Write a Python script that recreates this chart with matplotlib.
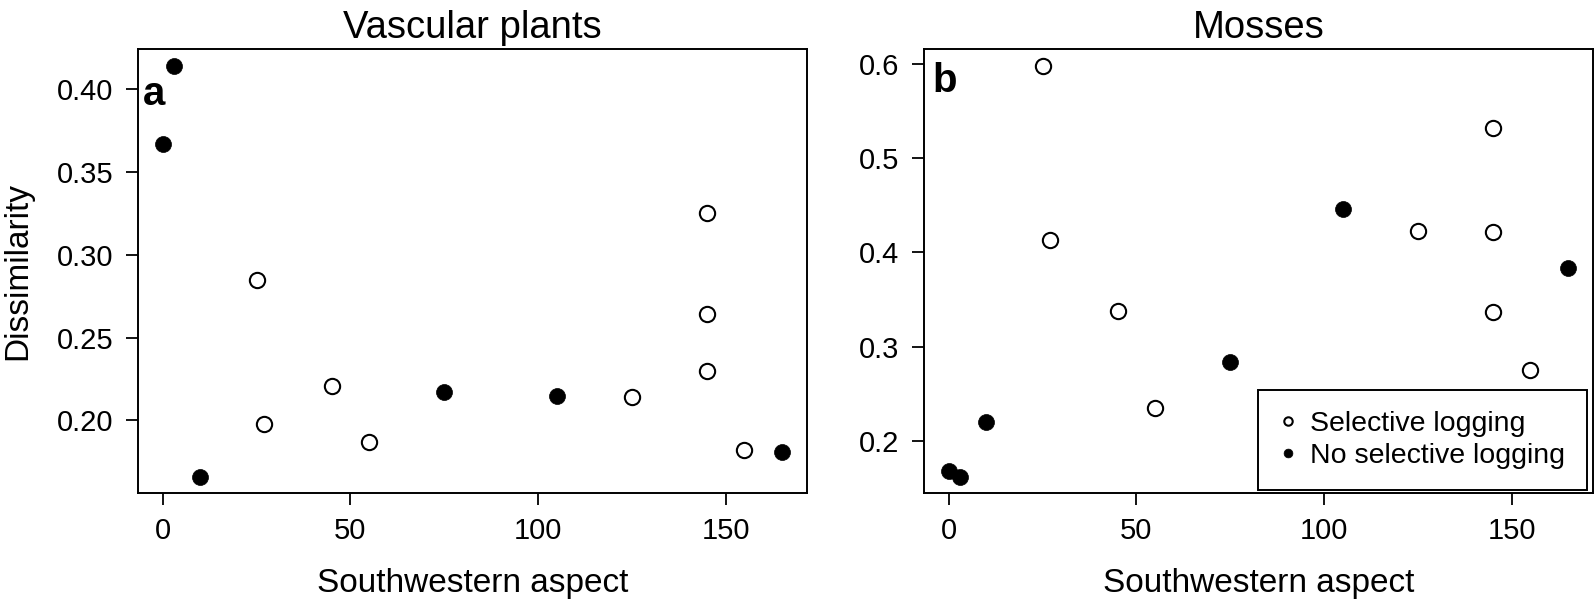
import numpy as np
import matplotlib
matplotlib.use("Agg")
import matplotlib.pyplot as plt
from matplotlib.lines import Line2D

plt.rcParams['font.family'] = ['Liberation Sans', 'DejaVu Sans']

# southwestern aspect of each site, and whether it was selectively logged
aspect = [0, 3, 10, 25, 27, 45, 55, 75, 105, 125, 145, 145, 145, 155, 165]
logged = [0, 0, 0, 1, 1, 1, 1, 0, 0, 1, 1, 1, 1, 1, 0]

# dissimilarity per site
vascular = [0.367, 0.414, 0.166, 0.285, 0.198, 0.221, 0.187, 0.217,
            0.215, 0.214, 0.325, 0.264, 0.230, 0.182, 0.181]
mosses = [0.168, 0.162, 0.220, 0.598, 0.413, 0.338, 0.235, 0.284,
          0.446, 0.423, 0.532, 0.422, 0.337, 0.275, 0.384]

titles = ["Vascular plants", "Mosses"]
letters = ["a", "b"]
xticks = [0, 50, 100, 150]
yticks_a = [0.20, 0.25, 0.30, 0.35, 0.40]
yticks_b = [0.2, 0.3, 0.4, 0.5, 0.6]
legend_labels = ["Selective logging", "No selective logging"]

TS = 21   # tick label size
LS = 24   # axis label size

fig = plt.figure(figsize=(15.95, 6.01), dpi=100)
axes = [fig.add_axes([0.0865, 0.1792, 0.4193, 0.7388]),
        fig.add_axes([0.5793, 0.1792, 0.4193, 0.7388])]


def r_lim(v):
    # R style 4% padding around the data range
    lo, hi = min(v), max(v)
    r = hi - lo
    return lo - 0.04 * r, hi + 0.04 * r


for i, (ax, yv) in enumerate(zip(axes, [vascular, mosses])):
    x = np.array(aspect)
    y = np.array(yv)
    g = np.array(logged) == 1
    ax.plot(x[g], y[g], 'o', ms=11, mfc='white', mec='black', mew=1.5, ls='none')
    ax.plot(x[~g], y[~g], 'o', ms=11.5, mfc='black', mec='black', mew=0.5, ls='none')

    ax.set_xlim(r_lim(aspect))
    ax.set_ylim(r_lim(yv))
    ax.set_xticks(xticks)
    if i == 0:
        ax.set_yticks(yticks_a)
        ax.set_yticklabels(['%.2f' % t for t in yticks_a])
        ax.set_ylabel("Dissimilarity", fontsize=LS, labelpad=17)
    else:
        ax.set_yticks(yticks_b)
        ax.set_yticklabels(['%.1f' % t for t in yticks_b])
    ax.set_xlabel("Southwestern aspect", fontsize=LS, labelpad=17)
    ax.set_title(titles[i], fontsize=27.5, pad=8)

    ax.tick_params(axis='x', labelsize=TS, length=8.8, width=1.3, pad=8)
    ax.tick_params(axis='y', labelsize=TS, length=8.8, width=1.3, pad=9)
    for s in ax.spines.values():
        s.set_linewidth(1.4)

    ax.text([0.0066, 0.012][i], [0.8745, 0.9045][i], letters[i],
            transform=ax.transAxes, fontsize=29, fontweight='bold',
            ha='left', va='baseline')

handles = [Line2D([], [], marker='o', ls='none', ms=11, mfc='white', mec='black', mew=1.5),
           Line2D([], [], marker='o', ls='none', ms=11.5, mfc='black', mec='black', mew=0.5)]
leg = axes[1].legend(handles, legend_labels, loc='lower right',
                     bbox_to_anchor=(0.991, 0.0074), borderaxespad=0,
                     fontsize=20.5, markerscale=0.55, frameon=True, fancybox=False,
                     edgecolor='black', framealpha=1, borderpad=0.75,
                     handlelength=0.6, handletextpad=0.5, labelspacing=0.2)
leg.get_frame().set_linewidth(1.4)

fig.savefig("out.png", dpi=100)
